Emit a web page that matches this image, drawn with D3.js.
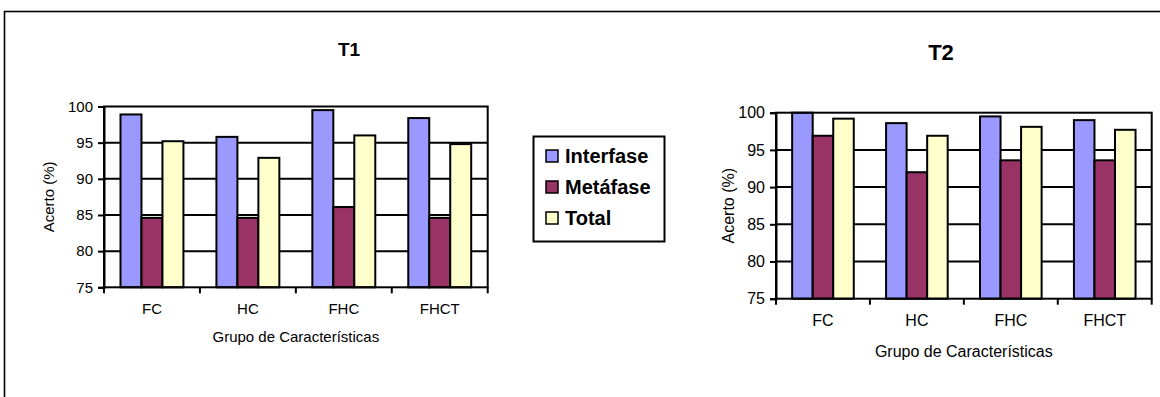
<!DOCTYPE html>
<html>
<head>
<meta charset="utf-8">
<script src="https://cdn.jsdelivr.net/npm/d3@7"></script>
<style>
  html, body { margin: 0; padding: 0; background: #fff; }
  svg { display: block; font-family: "Liberation Sans", Arial, sans-serif; }
</style>
</head>
<body>
<svg id="chart" width="1160" height="397"></svg>
<script>
// Feature groups and series
const categories = ["FC", "HC", "FHC", "FHCT"];
const seriesNames = ["Interfase", "Metáfase", "Total"];
const seriesColors = ["#9999ff", "#993366", "#ffffcc"];
const yTicks = [75, 80, 85, 90, 95, 100];

// Accuracy (%) per group, panel T1
const t1Interfase = [98.9, 95.8, 99.5, 98.4];
const t1Metafase  = [84.6, 84.6, 86.1, 84.6];
const t1Total     = [95.2, 92.9, 96.0, 94.8];

// Accuracy (%) per group, panel T2
const t2Interfase = [100.0, 98.6, 99.5, 99.0];
const t2Metafase  = [96.9, 92.0, 93.6, 93.6];
const t2Total     = [99.2, 96.9, 98.1, 97.7];

const svg = d3.select("#chart");

// Outer frame (runs off the right and bottom edges)
svg.append("rect")
  .attr("x", 4.5).attr("y", 11.5)
  .attr("width", 1200).attr("height", 420)
  .attr("fill", "none").attr("stroke", "#000").attr("stroke-width", 1.6);

function drawPanel(cfg) {
  const { title, series, left, right, top, bottom, fs, titleFs, titleX, titleY,
          xLabelY, yLabelX, tickLabelY } = cfg;

  const g = svg.append("g");

  const x0 = d3.scaleBand().domain(categories).range([left, right]).padding(0);
  const bw = x0.bandwidth();
  const x1 = d3.scaleBand().domain(seriesNames).range([bw * 0.172, bw * 0.828]).padding(0);
  const y = d3.scaleLinear().domain([75, 100]).range([bottom, top]);

  // Horizontal gridlines
  g.append("g").selectAll("line").data(yTicks.slice(1, -1)).join("line")
    .attr("x1", left).attr("x2", right)
    .attr("y1", d => y(d)).attr("y2", d => y(d))
    .attr("stroke", "#000").attr("stroke-width", 2);

  // Bars
  const rows = categories.map((c, i) => ({ cat: c, vals: series.map(s => s[i]) }));
  g.append("g").selectAll("g").data(rows).join("g")
    .attr("transform", d => `translate(${x0(d.cat)},0)`)
    .selectAll("rect")
    .data(d => d.vals.map((v, j) => ({ name: seriesNames[j], v, j })))
    .join("rect")
      .attr("x", d => x1(d.name))
      .attr("width", x1.bandwidth())
      .attr("y", d => y(d.v))
      .attr("height", d => y(75) - y(d.v))
      .attr("fill", d => seriesColors[d.j])
      .attr("stroke", "#000").attr("stroke-width", 2);

  // Plot frame
  g.append("rect")
    .attr("x", left).attr("y", top)
    .attr("width", right - left).attr("height", bottom - top)
    .attr("fill", "none").attr("stroke", "#000").attr("stroke-width", 2);

  // Y axis
  const yAxis = g.append("g")
    .attr("transform", `translate(${left},0)`)
    .call(d3.axisLeft(y).tickValues(yTicks).tickSize(6).tickPadding(5));
  yAxis.select(".domain").attr("stroke", "#000").attr("stroke-width", 2);
  yAxis.selectAll(".tick line").attr("stroke", "#000").attr("stroke-width", 2);
  yAxis.selectAll(".tick text")
    .attr("font-size", fs).attr("fill", "#000")
    .attr("font-family", "'Liberation Sans', Arial, sans-serif");

  // X axis: labels centred on groups, tick marks at group boundaries
  const xAxis = g.append("g")
    .attr("transform", `translate(0,${bottom})`)
    .call(d3.axisBottom(x0).tickSize(0).tickPadding(tickLabelY - bottom - fs * 0.75));
  xAxis.select(".domain").remove();
  xAxis.selectAll(".tick text")
    .attr("font-size", fs).attr("fill", "#000")
    .attr("font-family", "'Liberation Sans', Arial, sans-serif");

  const bounds = categories.map(c => x0(c)).concat([x0.range()[1]]);
  g.append("g").selectAll("line").data(bounds).join("line")
    .attr("x1", d => d).attr("x2", d => d)
    .attr("y1", bottom).attr("y2", bottom + 6)
    .attr("stroke", "#000").attr("stroke-width", 2);

  // Titles
  g.append("text")
    .attr("x", titleX).attr("y", titleY)
    .attr("text-anchor", "middle")
    .attr("font-size", titleFs).attr("font-weight", "bold")
    .text(title);

  g.append("text")
    .attr("x", (left + right) / 2).attr("y", xLabelY)
    .attr("text-anchor", "middle")
    .attr("font-size", fs)
    .text("Grupo de Características");

  g.append("text")
    .attr("transform", `translate(${yLabelX},${(top + bottom) / 2}) rotate(-90)`)
    .attr("text-anchor", "middle")
    .attr("font-size", fs)
    .text("Acerto (%)");
}

drawPanel({
  title: "T1", series: [t1Interfase, t1Metafase, t1Total],
  left: 104, right: 487.7, top: 106.5, bottom: 287.3,
  fs: 15, titleFs: 19, titleX: 349, titleY: 56,
  xLabelY: 342, yLabelX: 54, tickLabelY: 315
});

drawPanel({
  title: "T2", series: [t2Interfase, t2Metafase, t2Total],
  left: 776, right: 1151.7, top: 112.7, bottom: 298.7,
  fs: 16, titleFs: 22, titleX: 941, titleY: 60,
  xLabelY: 357, yLabelX: 734, tickLabelY: 327
});

// Legend
const legend = svg.append("g");
legend.append("rect")
  .attr("x", 533.5).attr("y", 136.5)
  .attr("width", 131).attr("height", 105)
  .attr("fill", "#fff").attr("stroke", "#000").attr("stroke-width", 2);

const legendY = d3.scalePoint().domain(seriesNames).range([156, 218]);
const items = legend.selectAll("g.item").data(seriesNames).join("g")
  .attr("class", "item")
  .attr("transform", d => `translate(546,${legendY(d)})`);
items.append("rect")
  .attr("x", 0).attr("y", -6).attr("width", 12).attr("height", 12)
  .attr("fill", (d, i) => seriesColors[i])
  .attr("stroke", "#000").attr("stroke-width", 1.5);
items.append("text")
  .attr("x", 19).attr("y", 7)
  .attr("font-size", 20).attr("font-weight", "bold")
  .text(d => d);
</script>
</body>
</html>
